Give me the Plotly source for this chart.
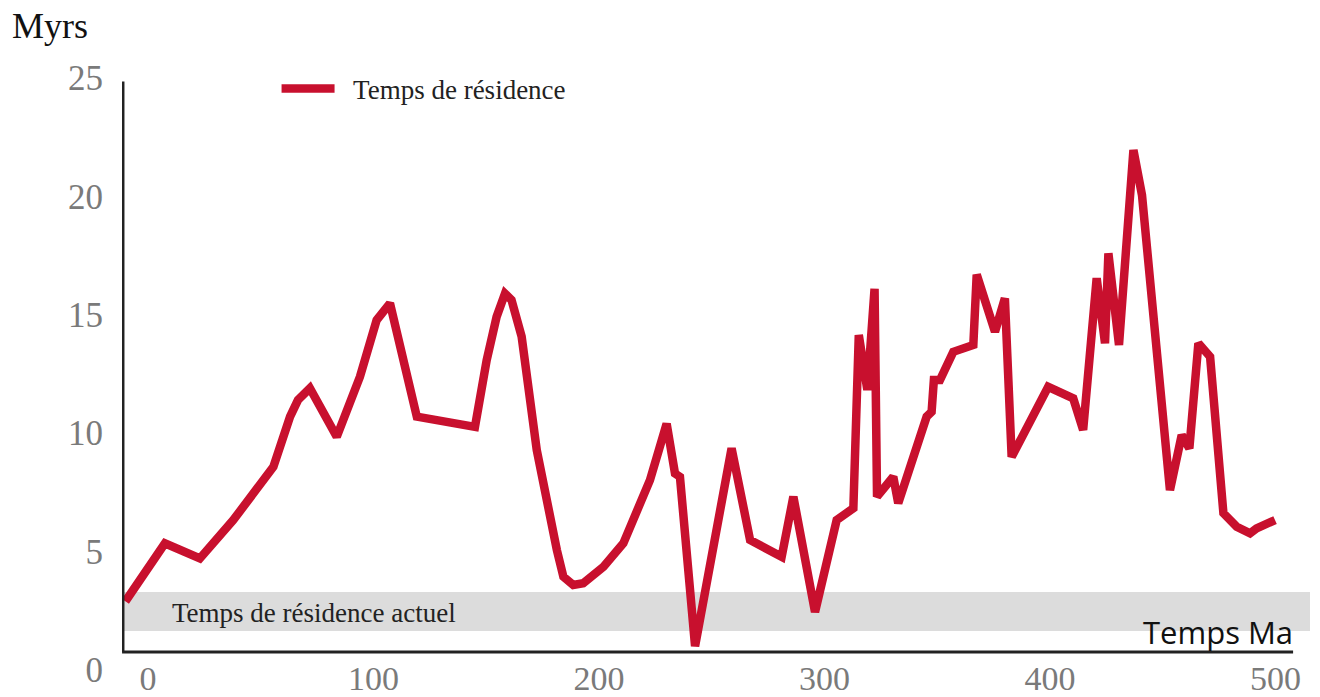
import plotly.graph_objects as go

# Residence time through the Phanerozoic (Ma vs Myrs)
age_ma = [-10, 7.5, 23, 37.8, 55.6, 63, 66.5, 71.8, 83.7, 94, 101.4, 107.3,
          119.2, 128, 136.9, 145, 150.2, 154.6, 158.3, 161.2, 165.7, 172.4,
          181.3, 184.2, 188.6, 193, 202, 210.8, 222.6, 227, 230, 233.7, 235.9,
          242.6, 258.8, 267, 281, 286.2, 295.8, 305.4, 312.8, 315.2, 319,
          322.2, 323.3, 330.5, 332.7, 345.3, 347.5, 348.5, 351.2, 357.1, 366,
          367.5, 375.6, 380, 383, 399.2, 410.3, 414.7, 420.7, 424.4, 425.9,
          430.6, 437, 440.8, 453.2, 458.4, 461.8, 465.8, 471, 476.9, 482.8,
          488.7, 491.6, 499.8]
residence_myrs = [2.9, 5.35, 4.71, 6.33, 8.58, 10.7, 11.4, 11.9, 9.85, 12.39,
                  14.78, 15.49, 10.7, 10.56, 10.35, 10.27, 13.09, 14.92, 15.9,
                  15.63, 14.08, 9.29, 5.07, 3.94, 3.59, 3.66, 4.36, 5.35, 8.02,
                  9.43, 10.4, 8.3, 8.16, 1.0, 9.36, 5.49, 4.78, 7.32, 2.45,
                  6.33, 6.83, 14.15, 11.83, 16.1, 7.32, 8.16, 7.04, 10.7,
                  10.9, 12.25, 12.25, 13.44, 13.73, 16.7, 14.29, 15.7, 9.0,
                  11.96, 11.47, 10.14, 16.55, 13.8, 17.6, 13.73, 21.96, 20.06,
                  7.6, 9.92, 9.36, 13.8, 13.23, 6.62, 6.05, 5.77, 5.98, 6.33]

# Present-day residence time band
present_low, present_high = 1.64, 3.29

x_ticks = [0, 100, 200, 300, 400, 500]
y_ticks = [0, 5, 10, 15, 20, 25]

x_range = [-11.53, 515.3]
y_range = [-1.145, 25.77]

RED = "#C8102E"
GREY_TXT = "#7a7a7a"
SERIF = "Liberation Serif"

fig = go.Figure()

fig.add_trace(go.Scatter(
    x=age_ma, y=residence_myrs, mode="lines",
    name="\u00a0\u00a0Temps de résidence",
    line=dict(color=RED, width=8.5),
))

# present-day band
fig.add_shape(type="rect", xref="x", yref="y", layer="below",
              x0=-11.1, x1=515.7, y0=present_low, y1=present_high,
              fillcolor="#dcdcdc", line=dict(width=0))

# hand-drawn style axis lines
axis_base = 0.76
fig.add_shape(type="line", xref="x", yref="y", x0=-11.1, x1=-11.1,
              y0=axis_base, y1=24.86, line=dict(color="#222", width=3))
fig.add_shape(type="line", xref="x", yref="y", x0=-11.5, x1=507.8,
              y0=axis_base, y1=axis_base, line=dict(color="#222", width=3))

fig.add_annotation(x=9.76, y=2.42, xref="x", yref="y", xanchor="left",
                   yanchor="middle", showarrow=False,
                   text="Temps de résidence actuel",
                   font=dict(family=SERIF, size=27, color="#222"))

fig.add_annotation(x=-0.0943, y=1.0534, xref="paper", yref="paper",
                   xanchor="left", yanchor="middle", showarrow=False,
                   text="Myrs", font=dict(family=SERIF, size=36, color="#111"))

fig.add_annotation(x=0.9226, y=0.102, xref="paper", yref="paper",
                   xanchor="center", yanchor="middle", showarrow=False,
                   text="Temps Ma", font=dict(family="Open Sans", size=31, color="#111"))

fig.update_layout(
    width=1320, height=697,
    margin=dict(l=122, r=10, t=60, b=0, autoexpand=False),
    paper_bgcolor="white", plot_bgcolor="white",
    showlegend=True,
    legend=dict(x=0.1301, y=0.9545, xanchor="left", yanchor="middle",
                bgcolor="rgba(0,0,0,0)", itemwidth=53,
                font=dict(family=SERIF, size=27, color="#222")),
    xaxis=dict(range=x_range, tickvals=x_ticks, showgrid=False, zeroline=False,
               showline=False, ticks="", anchor="free", position=0.066,
               automargin=False,
               tickfont=dict(family=SERIF, size=34, color=GREY_TXT)),
    yaxis=dict(range=y_range, tickvals=y_ticks, showgrid=False, zeroline=False,
               showline=False, ticks="", ticklabelstandoff=18, automargin=False,
               tickfont=dict(family=SERIF, size=35, color=GREY_TXT)),
)

fig.write_html("out.html")
